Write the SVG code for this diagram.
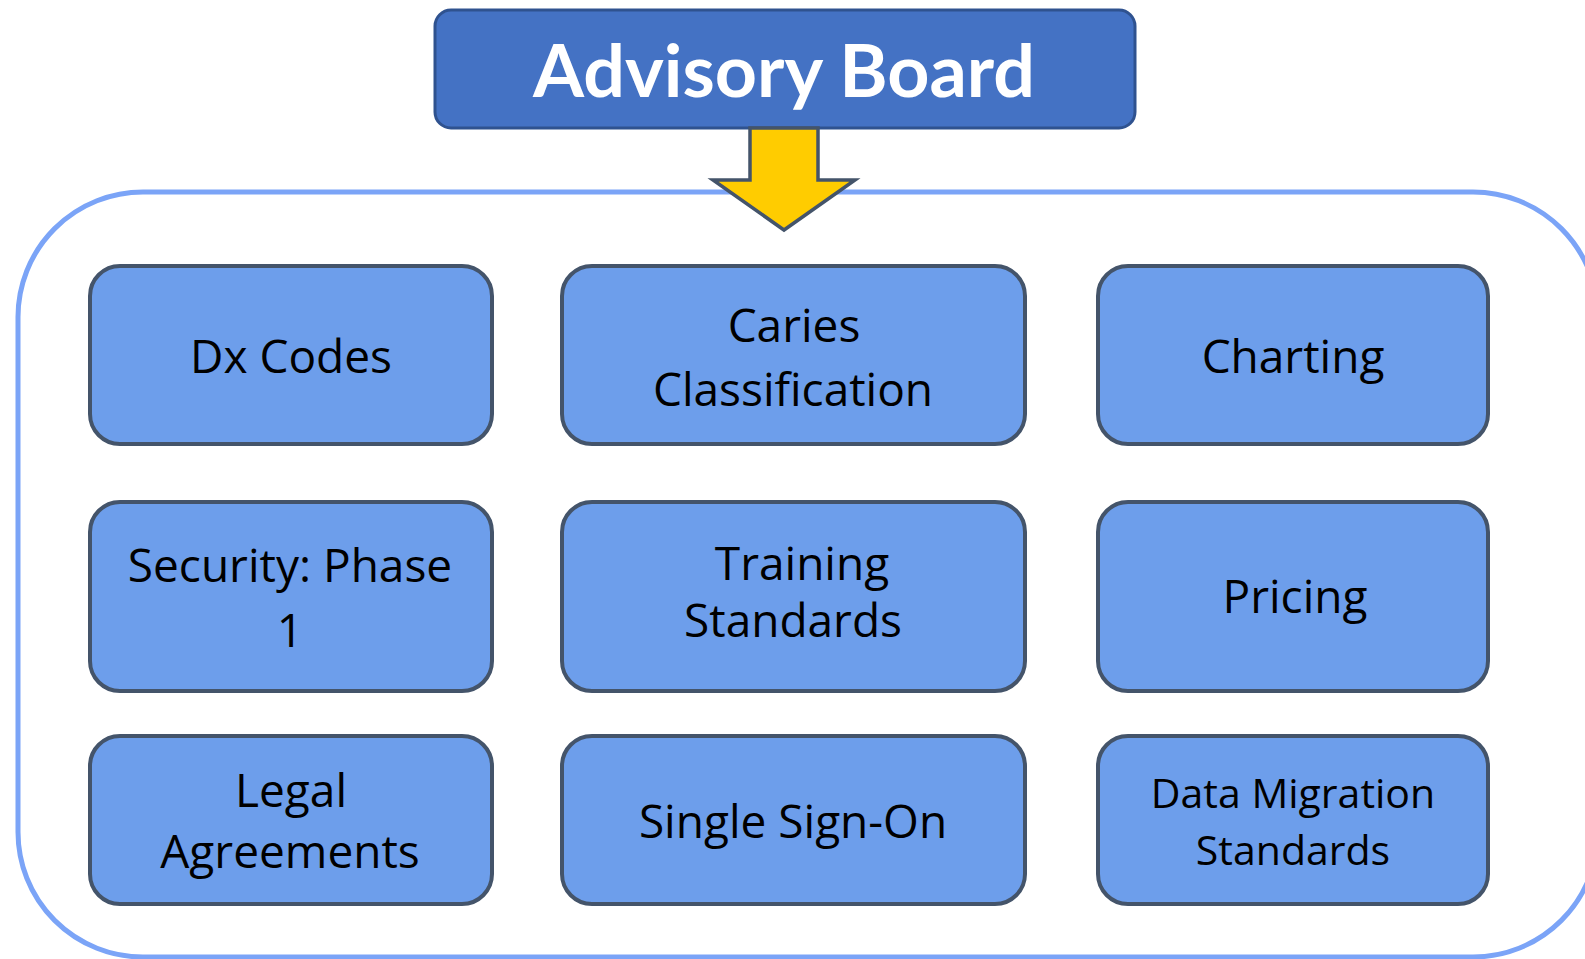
<svg xmlns="http://www.w3.org/2000/svg" width="1585" height="959" viewBox="0 0 1585 959">
<style>
.node rect{fill:#6D9EEB;stroke:#44546A;stroke-width:4}
.node text{font-family:"Open Sans",Lato,"Liberation Sans",sans-serif;font-size:46px;fill:#000;text-anchor:middle}
.node text.sm{font-size:41px}
.title rect{fill:#4472C4;stroke:#2F528F;stroke-width:3}
.title text{font-family:Lato,"Open Sans","Liberation Sans",sans-serif;font-weight:bold;font-size:73px;fill:#fff;text-anchor:middle}
</style>
<rect width="1585" height="959" fill="#fff"/>
<g id="container">
<rect x="18" y="192" width="1580" height="765" rx="125" ry="125" fill="none" stroke="#7BA4F7" stroke-width="5"/>
</g>
<g id="advisory-board" class="title">
<rect x="435" y="10" width="700" height="118" rx="16" ry="16"/>
<text x="784" y="97" textLength="502" lengthAdjust="spacingAndGlyphs">Advisory Board</text>
</g>
<g id="connectors">
<polygon points="750,128 818,128 818,180 855,180 784,230 713,180 750,180" fill="#FFCC00" stroke="#44546A" stroke-width="3.5" stroke-linejoin="miter"/>
</g>
<g id="dx-codes" class="node">
<rect x="90" y="266" width="402" height="178" rx="30" ry="30"/>
<text x="291" y="373">Dx Codes</text>
</g>
<g id="caries-classification" class="node">
<rect x="562" y="266" width="463" height="178" rx="30" ry="30"/>
<text x="794" y="342">Caries</text>
<text x="793" y="406">Classification</text>
</g>
<g id="charting" class="node">
<rect x="1098" y="266" width="390" height="178" rx="30" ry="30"/>
<text x="1293" y="373">Charting</text>
</g>
<g id="security-phase-1" class="node">
<rect x="90" y="502" width="402" height="189" rx="30" ry="30"/>
<text x="290" y="582">Security: Phase</text>
<text x="290" y="647">1</text>
</g>
<g id="training-standards" class="node">
<rect x="562" y="502" width="463" height="189" rx="30" ry="30"/>
<text x="802" y="580">Training</text>
<text x="793" y="637">Standards</text>
</g>
<g id="pricing" class="node">
<rect x="1098" y="502" width="390" height="189" rx="30" ry="30"/>
<text x="1295" y="613">Pricing</text>
</g>
<g id="legal-agreements" class="node">
<rect x="90" y="736" width="402" height="168" rx="30" ry="30"/>
<text x="291" y="807">Legal</text>
<text x="290" y="868">Agreements</text>
</g>
<g id="single-sign-on" class="node">
<rect x="562" y="736" width="463" height="168" rx="30" ry="30"/>
<text x="793" y="838">Single Sign-On</text>
</g>
<g id="data-migration-standards" class="node">
<rect x="1098" y="736" width="390" height="168" rx="30" ry="30"/>
<text class="sm" x="1293" y="808">Data Migration</text>
<text class="sm" x="1293" y="865">Standards</text>
</g>
</svg>
